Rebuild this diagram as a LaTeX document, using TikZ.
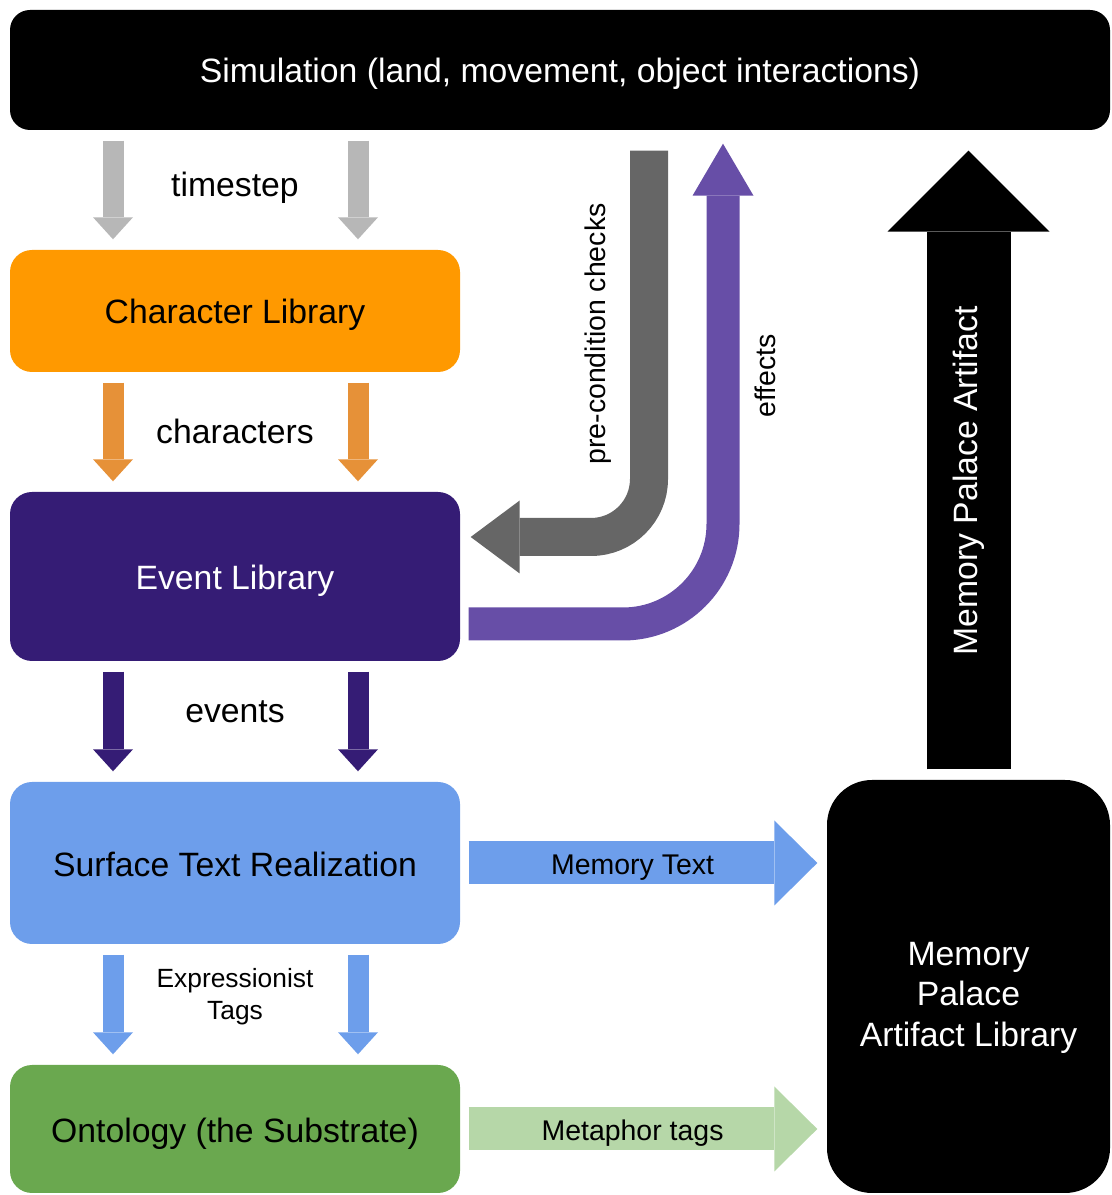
\documentclass[tikz,border=0pt]{standalone}
\usepackage{fontspec}
\setmainfont{Liberation Sans}
\usetikzlibrary{arrows.meta}
\definecolor{stepgray}{HTML}{B7B7B7}
\definecolor{charorange}{HTML}{FF9900}
\definecolor{charline}{HTML}{E69138}
\definecolor{eventpurple}{HTML}{351C75}
\definecolor{surfblue}{HTML}{6D9EEB}
\definecolor{ontgreen}{HTML}{6AA84F}
\definecolor{metagreen}{HTML}{B6D7A8}
\definecolor{checkgray}{HTML}{666666}
\definecolor{effpurple}{HTML}{674EA7}

\begin{document}
\begin{tikzpicture}[
  box/.style={rounded corners=0.22cm,minimum width=4.5cm,inner sep=0pt,text height=9.6pt,text depth=2.2pt,font=\fontsize{9.6}{11.4}\selectfont},
  lbl/.style={font=\fontsize{9.6}{11.4}\selectfont},
  smlbl/.style={font=\fontsize{8.1}{9.5}\selectfont},
  downarrow/.style={line width=0.21cm,-{Triangle[width=0.40cm,length=0.22cm,line width=0pt]},shorten <=0.1cm,shorten >=0.1cm},
  sidearrow/.style={line width=0.43cm,-{Triangle[width=0.85cm,length=0.43cm,line width=0pt]},shorten <=0.08cm,shorten >=0.09cm}
]
\useasboundingbox (0,0) rectangle (11.12,11.95);

\node[box,fill=black,text=white,minimum width=11cm,minimum height=1.2cm,rounded corners=0.2cm] (sim) at (5.60,11.25) {Simulation (land, movement, object interactions)};
\node[box,fill=charorange,minimum height=1.22cm] (chr) at (2.35,8.84) {Character Library};
\node[box,fill=eventpurple,text=white,minimum height=1.69cm] (evt) at (2.35,6.185) {Event Library};
\node[box,fill=surfblue,minimum height=1.62cm] (srf) at (2.35,3.32) {Surface Text Realization};
\node[box,fill=ontgreen,minimum height=1.28cm] (ont) at (2.35,0.66) {Ontology (the Substrate)};
\node[box,text height=,text depth=,fill=black,text=white,minimum width=2.83cm,minimum height=4.13cm,rounded corners=0.45cm,align=center] (mem) at (9.685,2.085) {\rule{0pt}{0.46cm}Memory\\Palace\\Artifact Library};

\coordinate (xl) at (1.13,0);
\coordinate (xr) at (3.58,0);
\foreach \a/\b/\c in {sim/chr/stepgray,chr/evt/charline,evt/srf/eventpurple,srf/ont/surfblue}{
  \foreach \x in {xl,xr}
    \draw[downarrow,\c] (\x |- \a.south) -- (\x |- \b.north);
}
\node[lbl] (tsl) at (2.35,10.07) {timestep};
\node[lbl] (chl) at (2.35,7.64) {characters};
\node[lbl] (evl) at (2.35,4.83) {events};
\node[font=\fontsize{7.5}{9.1}\selectfont,align=center] (exl) at (2.35,1.98) {Expressionist\\Tags};

\draw[sidearrow,surfblue] (srf.east) -- (srf.east -| mem.west) node[pos=0.47,smlbl,text=black,text height=8.2pt,text depth=1.7pt] (mtl) {Memory Text};
\draw[sidearrow,metagreen] (ont.east) -- (ont.east -| mem.west) node[pos=0.47,smlbl,text=black,text height=8.2pt,text depth=1.7pt] (mgl) {Metaphor tags};

\draw[black,line width=0.84cm,-{Triangle[width=1.62cm,length=0.81cm,line width=0pt]},shorten <=0.1cm,shorten >=0.2cm]
  (mem.north) -- (mem.north |- sim.south) node[pos=0.46,rotate=90,lbl,text=white] (mpl) {Memory Palace Artifact};

\coordinate (pc) at (6.49,6.58);
\draw[checkgray,line width=0.38cm,rounded corners=0.58cm,-{Triangle[width=0.73cm,length=0.49cm,line width=0pt]},shorten <=0.2cm,shorten >=0.1cm]
  (pc |- sim.south) -- (pc) -- (pc -| evt.east);
\node[smlbl,rotate=90] (pcl) at (5.98,8.61) {pre-condition checks};

\coordinate (ef) at (7.23,5.71);
\draw[effpurple,line width=0.33cm,rounded corners=1cm,-{Triangle[width=0.61cm,length=0.52cm,line width=0pt]},shorten <=0.08cm,shorten >=0.13cm]
  (ef -| evt.east) -- (ef) -- (ef |- sim.south);
\node[smlbl,rotate=90] (efl) at (7.65,8.19) {effects};

\end{tikzpicture}
\end{document}
